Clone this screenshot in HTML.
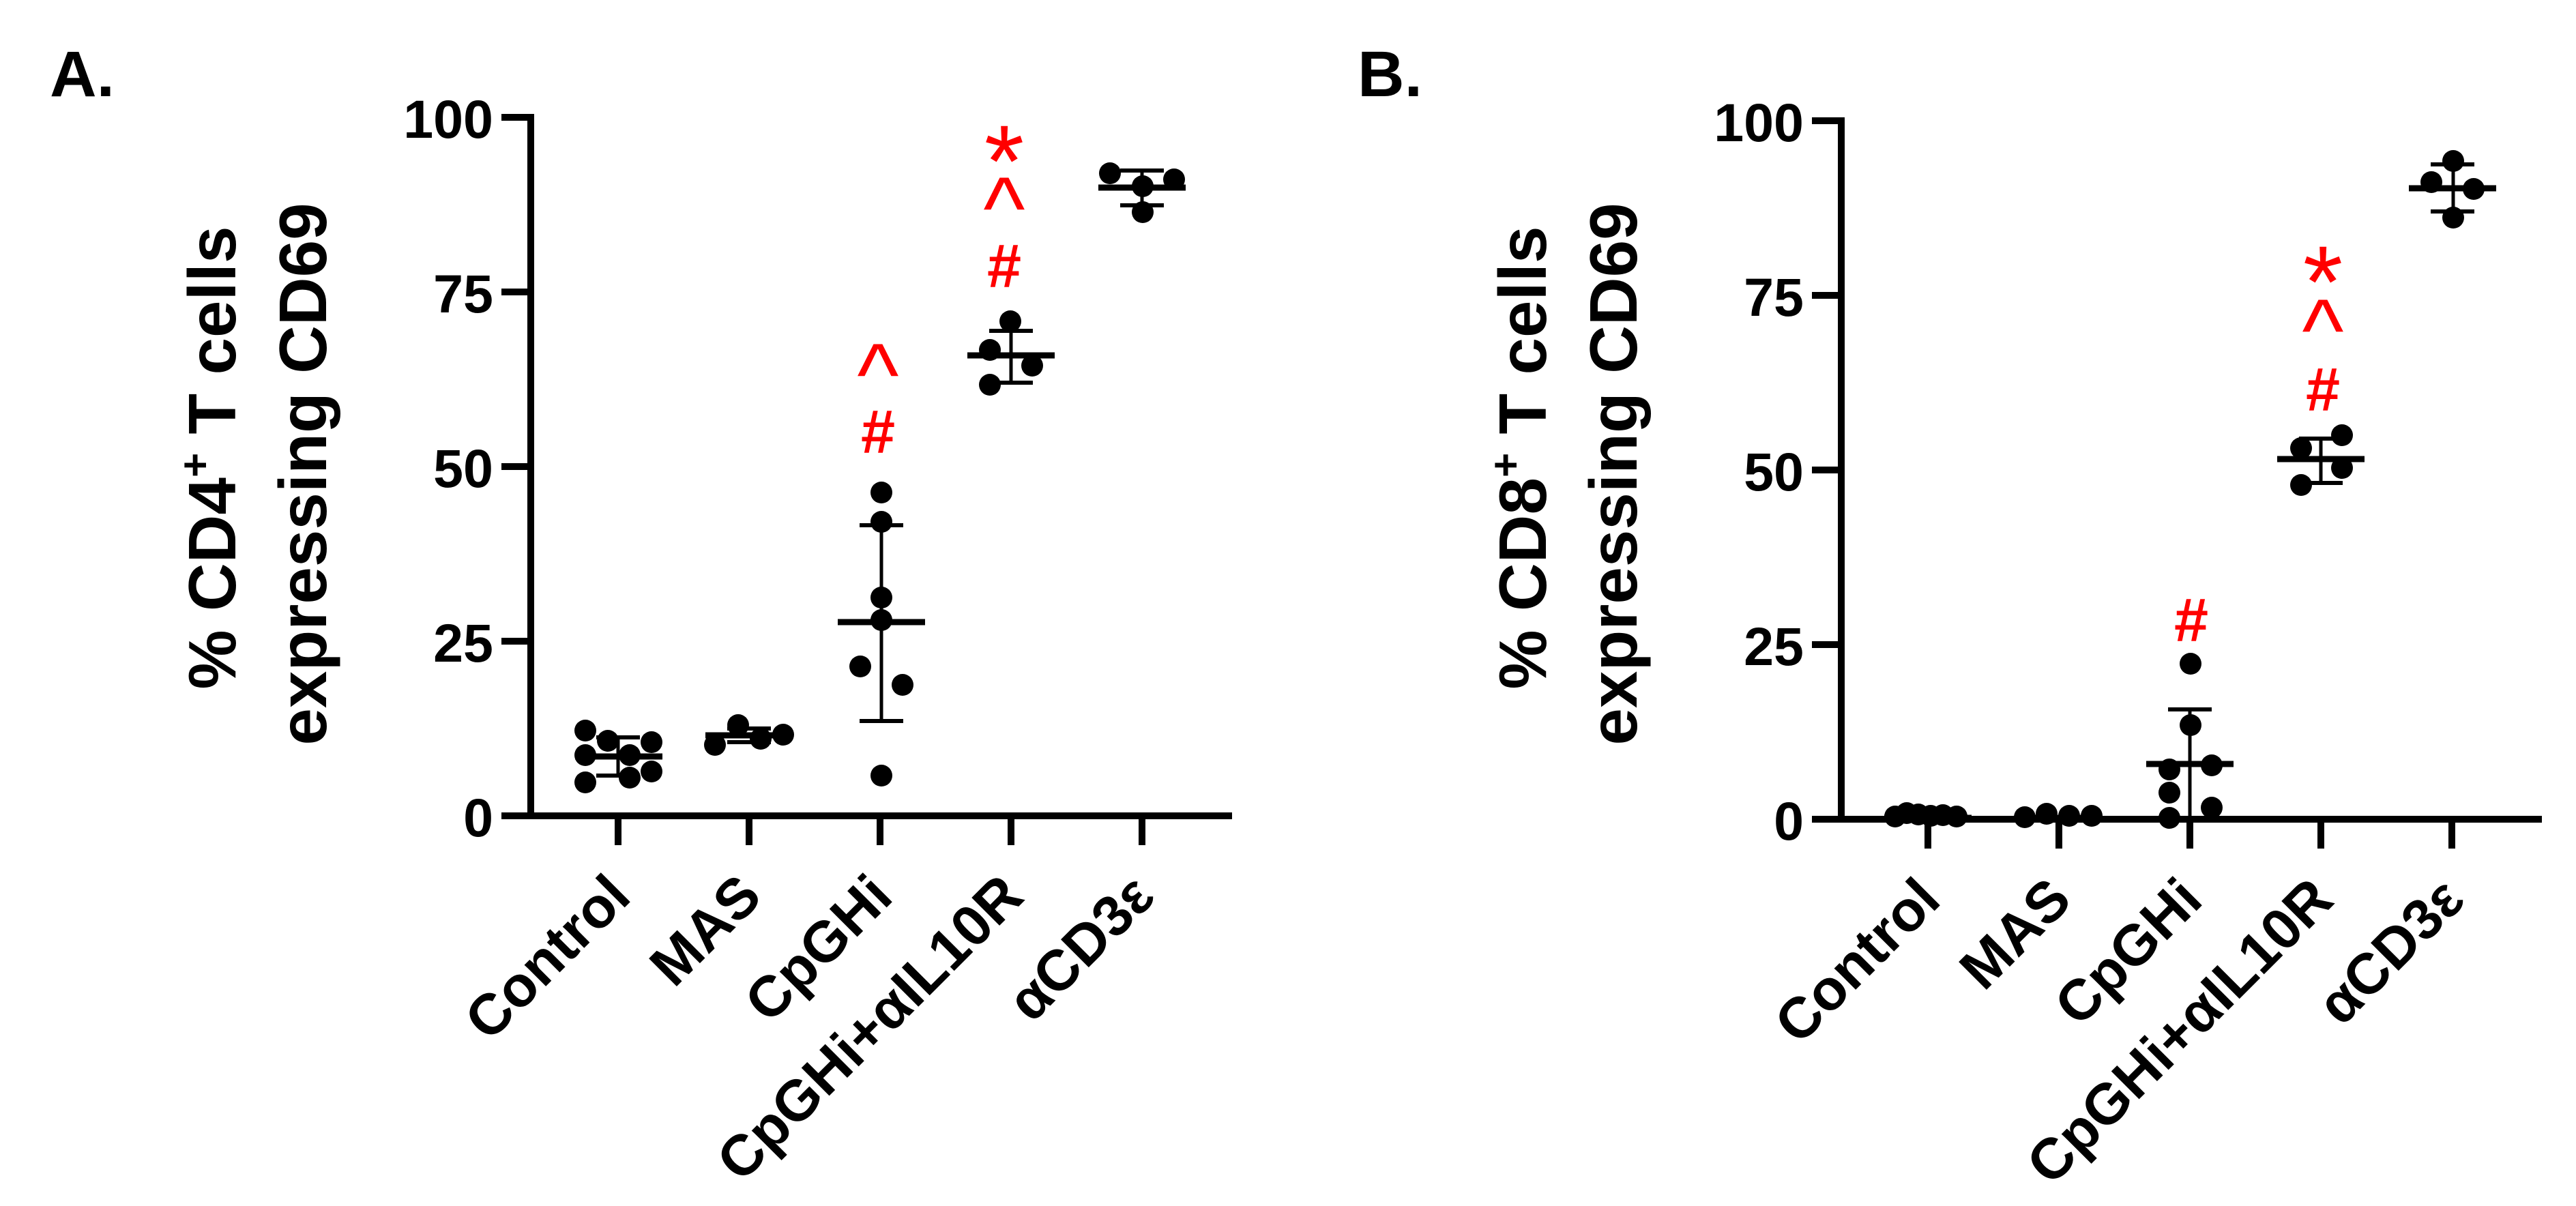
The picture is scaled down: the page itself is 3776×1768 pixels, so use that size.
<!DOCTYPE html>
<html><head><meta charset="utf-8"><style>html,body{margin:0;padding:0;background:#fff}svg{display:block}</style></head>
<body>
<svg width="3776" height="1768" viewBox="0 0 3776 1768" xmlns="http://www.w3.org/2000/svg" font-family="Liberation Sans, Arial, sans-serif">
<rect width="3776" height="1768" fill="#fff"/>
<!-- Panel A -->
<text x="73" y="141" font-size="95" font-weight="bold">A.</text>
<text transform="translate(345,671) rotate(-90)" text-anchor="middle" font-size="98" font-weight="bold">% CD4<tspan font-size="62" dy="-38">+</tspan><tspan dy="38"> T cells</tspan></text>
<text transform="translate(478,695) rotate(-90)" text-anchor="middle" font-size="98" font-weight="bold">expressing CD69</text>
<g stroke="#000" fill="none">
<line x1="778" y1="167" x2="778" y2="1201" stroke-width="10"/>
<line x1="735" y1="1196" x2="1806" y2="1196" stroke-width="10"/>
<g stroke-width="10">
<line x1="735" y1="172" x2="778" y2="172"/><line x1="735" y1="428" x2="778" y2="428"/><line x1="735" y1="684" x2="778" y2="684"/><line x1="735" y1="940" x2="778" y2="940"/>
<line x1="906" y1="1196" x2="906" y2="1239"/><line x1="1098" y1="1196" x2="1098" y2="1239"/><line x1="1290" y1="1196" x2="1290" y2="1239"/><line x1="1482" y1="1196" x2="1482" y2="1239"/><line x1="1674" y1="1196" x2="1674" y2="1239"/>
</g></g>
<g font-size="79" font-weight="bold" text-anchor="end">
<text x="723" y="202">100</text><text x="723" y="458">75</text><text x="723" y="714">50</text><text x="723" y="970">25</text><text x="723" y="1226">0</text>
</g>
<g font-size="84" font-weight="bold" text-anchor="end">
<text transform="translate(928,1318) rotate(-45)">Control</text>
<text transform="translate(1120,1318) rotate(-45)">MAS</text>
<text transform="translate(1312,1318) rotate(-45)">CpGHi</text>
<text transform="translate(1504,1318) rotate(-45)">CpGHi+αIL10R</text>
<text transform="translate(1696,1318) rotate(-45)">αCD3ε</text>
</g>
<g fill="#000">
<circle cx="858" cy="1071" r="16"/><circle cx="891" cy="1086" r="16"/><circle cx="955" cy="1088" r="16"/><circle cx="858" cy="1107" r="16"/><circle cx="923" cy="1107" r="16"/><circle cx="955" cy="1131" r="16"/><circle cx="858" cy="1147" r="16"/><circle cx="923" cy="1140" r="16"/>
<circle cx="1048" cy="1092" r="16"/><circle cx="1082" cy="1063" r="16"/><circle cx="1115" cy="1083" r="16"/><circle cx="1148" cy="1077" r="16"/>
<circle cx="1292" cy="722" r="16"/><circle cx="1292" cy="765" r="16"/><circle cx="1292" cy="876" r="16"/><circle cx="1292" cy="909" r="16"/><circle cx="1261" cy="977" r="16"/><circle cx="1323" cy="1004" r="16"/><circle cx="1292" cy="1137" r="16"/>
<circle cx="1481" cy="471" r="16"/><circle cx="1451" cy="513" r="16"/><circle cx="1451" cy="564" r="16"/><circle cx="1513" cy="536" r="16"/>
<circle cx="1627" cy="254" r="16"/><circle cx="1721" cy="263" r="16"/><circle cx="1675" cy="273" r="16"/><circle cx="1675" cy="311" r="16"/>
</g>
<g stroke="#000">
<line x1="843" y1="1109" x2="971" y2="1109" stroke-width="9"/><line x1="906" y1="1081" x2="906" y2="1137" stroke-width="5"/><line x1="874" y1="1081" x2="938" y2="1081" stroke-width="6"/><line x1="874" y1="1137" x2="938" y2="1137" stroke-width="6"/>
<line x1="1034" y1="1078" x2="1162" y2="1078" stroke-width="9"/><line x1="1066" y1="1068" x2="1130" y2="1068" stroke-width="6"/><line x1="1066" y1="1088" x2="1130" y2="1088" stroke-width="6"/>
<line x1="1228" y1="912" x2="1356" y2="912" stroke-width="9"/><line x1="1292" y1="770" x2="1292" y2="1057" stroke-width="5"/><line x1="1260" y1="770" x2="1324" y2="770" stroke-width="6"/><line x1="1260" y1="1057" x2="1324" y2="1057" stroke-width="6"/>
<line x1="1418" y1="521" x2="1546" y2="521" stroke-width="9"/><line x1="1482" y1="485" x2="1482" y2="561" stroke-width="5"/><line x1="1450" y1="485" x2="1514" y2="485" stroke-width="6"/><line x1="1450" y1="561" x2="1514" y2="561" stroke-width="6"/>
<line x1="1610" y1="275" x2="1738" y2="275" stroke-width="9"/><line x1="1674" y1="250" x2="1674" y2="301" stroke-width="5"/><line x1="1642" y1="250" x2="1706" y2="250" stroke-width="6"/><line x1="1642" y1="301" x2="1706" y2="301" stroke-width="6"/>
</g>
<g fill="#ff0000" text-anchor="middle">
<text x="1287" y="664" font-size="90" font-weight="bold">#</text>
<text x="1287" y="594" font-size="130">^</text>
<text x="1472" y="421" font-size="90" font-weight="bold">#</text>
<text x="1472" y="350" font-size="130">^</text>
<text x="1472" y="288" font-size="150">*</text>
</g>

<!-- Panel B -->
<text x="1990" y="141" font-size="95" font-weight="bold">B.</text>
<text transform="translate(2266,671) rotate(-90)" text-anchor="middle" font-size="98" font-weight="bold">% CD8<tspan font-size="62" dy="-38">+</tspan><tspan dy="38"> T cells</tspan></text>
<text transform="translate(2399,695) rotate(-90)" text-anchor="middle" font-size="98" font-weight="bold">expressing CD69</text>
<g stroke="#000" fill="none">
<line x1="2699" y1="172" x2="2699" y2="1206" stroke-width="10"/>
<line x1="2656" y1="1201" x2="3726" y2="1201" stroke-width="10"/>
<g stroke-width="10">
<line x1="2656" y1="177" x2="2699" y2="177"/><line x1="2656" y1="433" x2="2699" y2="433"/><line x1="2656" y1="689" x2="2699" y2="689"/><line x1="2656" y1="945" x2="2699" y2="945"/>
<line x1="2826" y1="1201" x2="2826" y2="1244"/><line x1="3018" y1="1201" x2="3018" y2="1244"/><line x1="3210" y1="1201" x2="3210" y2="1244"/><line x1="3402" y1="1201" x2="3402" y2="1244"/><line x1="3594" y1="1201" x2="3594" y2="1244"/>
</g></g>
<g font-size="79" font-weight="bold" text-anchor="end">
<text x="2644" y="207">100</text><text x="2644" y="463">75</text><text x="2644" y="719">50</text><text x="2644" y="975">25</text><text x="2644" y="1231">0</text>
</g>
<g font-size="84" font-weight="bold" text-anchor="end">
<text transform="translate(2848,1323) rotate(-45)">Control</text>
<text transform="translate(3040,1323) rotate(-45)">MAS</text>
<text transform="translate(3232,1323) rotate(-45)">CpGHi</text>
<text transform="translate(3424,1323) rotate(-45)">CpGHi+αIL10R</text>
<text transform="translate(3616,1323) rotate(-45)">αCD3ε</text>
</g>
<g fill="#000">
<circle cx="2778" cy="1197" r="16"/><circle cx="2795" cy="1192" r="16"/><circle cx="2812" cy="1194" r="16"/><circle cx="2830" cy="1196" r="16"/><circle cx="2848" cy="1195" r="16"/><circle cx="2868" cy="1197" r="16"/>
<circle cx="2968" cy="1198" r="16"/><circle cx="3000" cy="1193" r="16"/><circle cx="3033" cy="1196" r="16"/><circle cx="3066" cy="1196" r="16"/>
<circle cx="3211" cy="973" r="16"/><circle cx="3211" cy="1063" r="16"/><circle cx="3180" cy="1128" r="16"/><circle cx="3242" cy="1122" r="16"/><circle cx="3180" cy="1162" r="16"/><circle cx="3242" cy="1184" r="16"/><circle cx="3180" cy="1199" r="16"/>
<circle cx="3373" cy="657" r="16"/><circle cx="3433" cy="638" r="16"/><circle cx="3373" cy="711" r="16"/><circle cx="3433" cy="686" r="16"/>
<circle cx="3596" cy="236" r="16"/><circle cx="3564" cy="267" r="16"/><circle cx="3626" cy="277" r="16"/><circle cx="3596" cy="319" r="16"/>
</g>
<g stroke="#000">
<line x1="2762" y1="1199" x2="2890" y2="1199" stroke-width="9"/>
<line x1="2954" y1="1199" x2="3082" y2="1199" stroke-width="9"/>
<line x1="3146" y1="1120" x2="3274" y2="1120" stroke-width="9"/><line x1="3210" y1="1040" x2="3210" y2="1199" stroke-width="5"/><line x1="3178" y1="1040" x2="3242" y2="1040" stroke-width="6"/>
<line x1="3338" y1="673" x2="3466" y2="673" stroke-width="9"/><line x1="3402" y1="643" x2="3402" y2="708" stroke-width="5"/><line x1="3370" y1="643" x2="3434" y2="643" stroke-width="6"/><line x1="3370" y1="708" x2="3434" y2="708" stroke-width="6"/>
<line x1="3531" y1="276" x2="3659" y2="276" stroke-width="9"/><line x1="3596" y1="241" x2="3596" y2="310" stroke-width="5"/><line x1="3563" y1="241" x2="3627" y2="241" stroke-width="6"/><line x1="3563" y1="310" x2="3627" y2="310" stroke-width="6"/>
</g>
<g fill="#ff0000" text-anchor="middle">
<text x="3212" y="940" font-size="90" font-weight="bold">#</text>
<text x="3405" y="602" font-size="90" font-weight="bold">#</text>
<text x="3405" y="529" font-size="130">^</text>
<text x="3405" y="465" font-size="150">*</text>
</g>
</svg>
</body></html>
